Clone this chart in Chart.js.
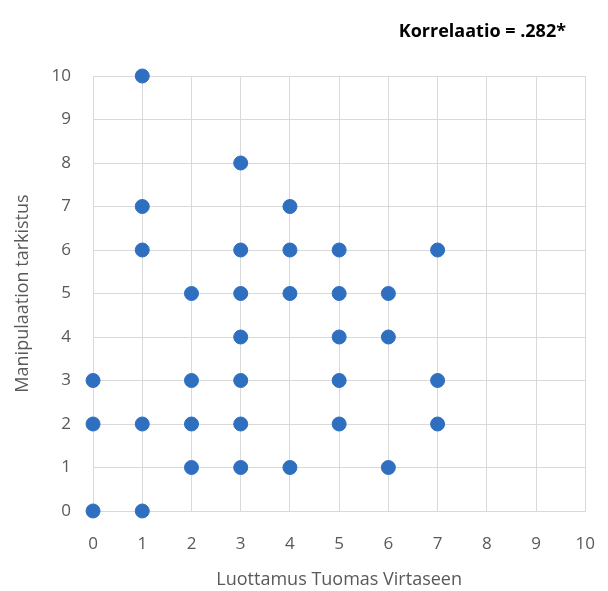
<!DOCTYPE html>
<html>
<head>
<meta charset="utf-8">
<script src="https://cdn.jsdelivr.net/npm/chart.js@4"></script>
<style>
  html, body { margin: 0; padding: 0; background: #fff; }
  #wrap { width: 608px; height: 591px; }
</style>
</head>
<body>
<div id="wrap"><canvas id="scatterChart"></canvas></div>
<script>
const titleText = 'Korrelaatio = .282*';
const xLabel = 'Luottamus Tuomas Virtaseen';
const yLabel = 'Manipulaation tarkistus';

// luottamus (x) and manipulaatio (y) for each respondent point
const luottamus =   [0, 0, 0, 1, 1, 1, 1, 1, 2, 2, 2, 2, 3, 3, 3, 3, 3, 3, 3, 4, 4, 4, 4, 5, 5, 5, 5, 5, 6, 6, 6, 7, 7, 7];
const manipulaatio = [0, 2, 3, 0, 2, 6, 7, 10, 1, 2, 3, 5, 1, 2, 3, 4, 5, 6, 8, 1, 5, 6, 7, 2, 3, 4, 5, 6, 1, 4, 5, 2, 3, 6];

const points = luottamus.map((x, i) => ({x: x, y: manipulaatio[i]}));

const titlePlugin = {
  id: 'cornerTitle',
  afterDraw: (chart) => {
    const {ctx} = chart;
    ctx.save();
    ctx.font = 'bold 18px "Open Sans", sans-serif';
    ctx.fillStyle = '#000';
    ctx.textAlign = 'right';
    ctx.textBaseline = 'middle';
    ctx.fillText(titleText, 566, 32);
    ctx.restore();
  }
};

const gridColor = '#d9d9d9';
const textColor = '#595959';

new Chart(document.querySelector('#scatterChart'), {
  type: 'scatter',
  data: {
    datasets: [{
      label: 'data',
      data: points,
      backgroundColor: '#2e6fc0',
      borderColor: '#2e6fc0',
      pointRadius: 7,
      pointHoverRadius: 7,
      clip: false
    }]
  },
  options: {
    responsive: true,
    maintainAspectRatio: false,
    animation: false,
    layout: {
      padding: {top: 76, right: 0, bottom: 0, left: 0}
    },
    plugins: {
      legend: {display: false},
      tooltip: {enabled: false}
    },
    scales: {
      x: {
        type: 'linear',
        min: 0,
        max: 10,
        ticks: {stepSize: 1, color: textColor, font: {size: 17, family: '"Open Sans", sans-serif'}, padding: 13},
        grid: {color: gridColor, drawTicks: true, tickLength: 10, tickColor: 'rgba(0,0,0,0)'},
        border: {color: gridColor},
        title: {display: true, text: xLabel, color: textColor, font: {size: 18, family: '"Open Sans", sans-serif'}, padding: {top: 2, bottom: 0}}
      },
      y: {
        min: 0,
        max: 10,
        ticks: {stepSize: 1, color: textColor, font: {size: 17, family: '"Open Sans", sans-serif'}, padding: 22},
        grid: {color: gridColor, drawTicks: false},
        border: {color: gridColor},
        title: {display: true, text: yLabel, color: textColor, font: {size: 18, family: '"Open Sans", sans-serif'}, padding: {top: 12, bottom: -4}}
      }
    }
  },
  plugins: [titlePlugin]
});
</script>
</body>
</html>
